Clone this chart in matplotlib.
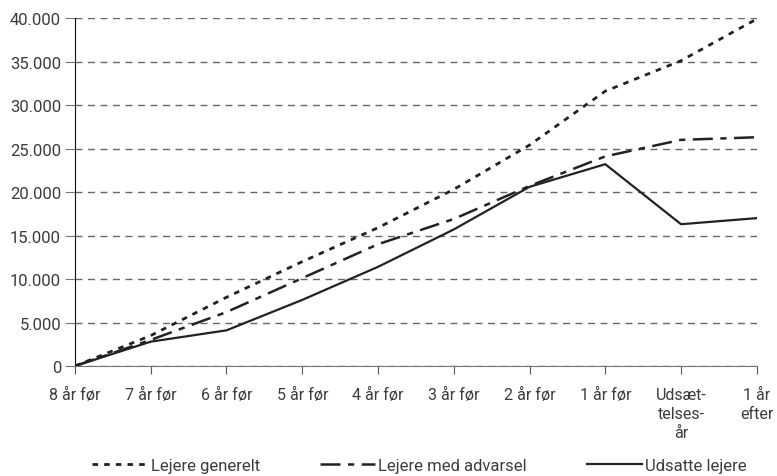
import matplotlib.pyplot as plt
from matplotlib.ticker import FuncFormatter

# Data
categories = ["8 år før", "7 år før", "6 år før", "5 år før", "4 år før",
              "3 år før", "2 år før", "1 år før", "Udsæt-\ntelses-\når", "1 år\nefter"]
lejere_generelt = [0, 3500, 7900, 12000, 15900, 20300, 25400, 31600, 35100, 39900]
lejere_advarsel = [0, 3000, 6200, 10100, 14000, 16900, 20700, 24100, 26000, 26300]
udsatte_lejere = [0, 2800, 4100, 7600, 11400, 15700, 20600, 23200, 16300, 17000]

plt.rcParams['font.family'] = ['Roboto', 'DejaVu Sans']
txt = "#3c3c3c"

fig = plt.figure(figsize=(7.77, 4.77), dpi=100)
ax = fig.add_axes([0.0965, 0.2306, 0.8775, 0.7294])

x = range(len(categories))
ax.plot(x, lejere_generelt, color="#222222", lw=2, linestyle=(0, (2, 2.2)),
        label="Lejere generelt")
ax.plot(x, lejere_advarsel, color="#222222", lw=1.8, linestyle=(0, (8, 3, 2.5, 3)),
        label="Lejere med advarsel")
ax.plot(x, udsatte_lejere, color="#222222", lw=1.6, label="Udsatte lejere")

ax.set_xlim(0, len(categories) - 1)
ax.set_ylim(0, 40000)
ax.set_yticks(range(0, 40001, 5000))
ax.yaxis.set_major_formatter(FuncFormatter(lambda v, p: f"{int(v):,}".replace(",", ".")))
ax.set_xticks(list(x))
ax.set_xticklabels(categories, linespacing=1.35)

ax.grid(axis="y", linestyle=(0, (5, 4)), color="#666666", lw=1)
ax.set_axisbelow(True)

for s in ["top", "right"]:
    ax.spines[s].set_visible(False)
ax.spines["left"].set_color("#111111")
ax.spines["bottom"].set_color("#777777")
ax.tick_params(axis="y", direction="out", length=7, color="#777777",
               labelsize=12, labelcolor=txt, pad=3)
ax.tick_params(axis="x", direction="out", length=6, color="#555555",
               labelsize=11.5, labelcolor=txt, pad=9)

leg = fig.legend(loc="lower center", bbox_to_anchor=(0.54, -0.025), ncol=3,
                 frameon=False, fontsize=12, handlelength=3.3, handletextpad=0.2,
                 columnspacing=3.6)
for t in leg.get_texts():
    t.set_color(txt)

fig.savefig("out.png", dpi=100)
